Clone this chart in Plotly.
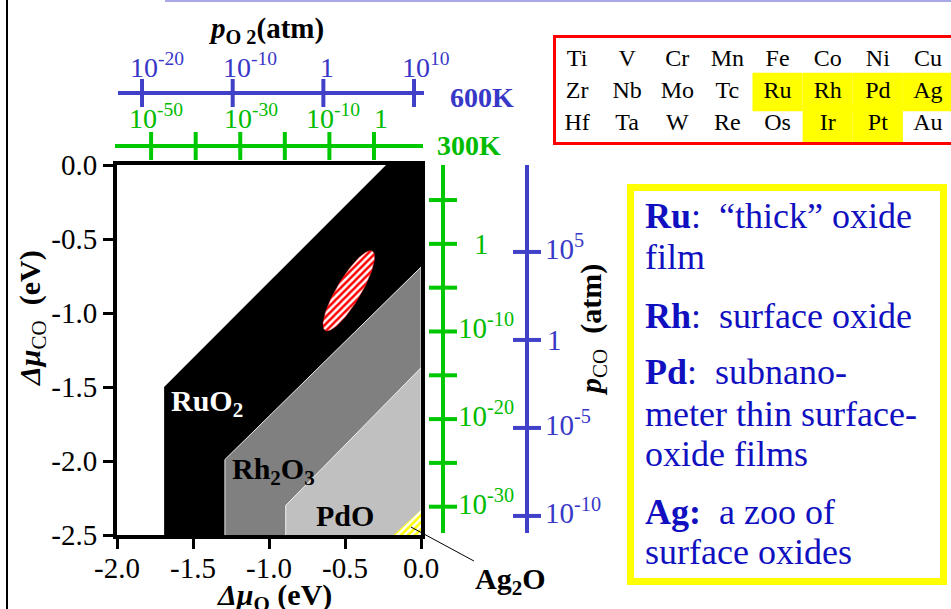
import numpy as np
import plotly.graph_objects as go

W, H = 951, 609
FONT = "Liberation Serif"
BLUE = "#4040c8"
BLUE_TXT = "#3838c8"
GREEN = "#00c800"
GREEN_TXT = "#00bb00"
NAVY = "#1010c0"

# ---------------- phase regions: (Δμ_O, Δμ_CO) in eV ----------------
ruo2_x = [-1.69, -1.69, -0.23, 0.0, 0.0]
ruo2_y = [-2.5, -1.50, 0.0, 0.0, -2.5]
rh2o3_x = [-1.29, -1.29, 0.0, 0.0]
rh2o3_y = [-2.5, -1.99, -0.69, -2.5]
pdo_x = [-0.89, -0.89, 0.0, 0.0]
pdo_y = [-2.5, -2.30, -1.37, -2.5]
ag2o_x = [-0.18, 0.0, 0.0]
ag2o_y = [-2.5, -2.33, -2.5]

# active window: centre, semi-axes (eV) and tilt (deg)
active_center = (-0.475, -0.85)
active_axes = (0.31, 0.08)
active_tilt = 60.0

phase_names = ["RuO<sub>2</sub>", "Rh<sub>2</sub>O<sub>3</sub>", "PdO"]
phase_label_x = [-1.405, -0.97, -0.50]
phase_label_y = [-1.61, -2.07, -2.37]
phase_label_color = ["white", "black", "black"]

x_tickvals = [-2.0, -1.5, -1.0, -0.5, 0.0]
x_ticktext = ["-2.0", "-1.5", "-1.0", "-0.5", "0.0"]
y_tickvals = [0.0, -0.5, -1.0, -1.5, -2.0, -2.5]
y_ticktext = ["0.0", "-0.5", "-1.0", "-1.5", "-2.0", "-2.5"]

# ---------------- pressure scales: log10(p / atm) ----------------
o2_600_range = [-22.65, 11.1]
o2_600_ticks = [-20, -10, 0, 10]
o2_600_labels = ["10<sup>-20</sup>", "10<sup>-10</sup>", "1", "10<sup>10</sup>"]

o2_300_range = [-58.1, 11.0]
o2_300_ticks = [-50, -40, -30, -20, -10, 0]
o2_300_label_at = [-50, -30, -10, 0]
o2_300_labels = ["10<sup>-50</sup>", "10<sup>-30</sup>", "10<sup>-10</sup>", "1"]

co_300_range = [-33.0, 9.0]
co_300_ticks = [5, 0, -5, -10, -15, -20, -25, -30]
co_300_label_at = [0, -10, -20, -30]
co_300_labels = ["1", "10<sup>-10</sup>", "10<sup>-20</sup>", "10<sup>-30</sup>"]

co_600_range = [-10.97, 9.94]
co_600_ticks = [5, 0, -5, -10]
co_600_labels = ["10<sup>5</sup>", "1", "10<sup>-5</sup>", "10<sup>-10</sup>"]

# ---------------- periodic-table excerpt ----------------
elements = [
    ["Ti", "V", "Cr", "Mn", "Fe", "Co", "Ni", "Cu"],
    ["Zr", "Nb", "Mo", "Tc", "Ru", "Rh", "Pd", "Ag"],
    ["Hf", "Ta", "W", "Re", "Os", "Ir", "Pt", "Au"],
]
highlighted = ["Ru", "Rh", "Pd", "Ag", "Ir", "Pt"]

# ---------------- notes ----------------
notes = [
    ("<b>Ru</b>:\u00a0 “thick” oxide", 227),
    ("film", 268),
    ("<b>Rh</b>:\u00a0 surface oxide", 327),
    ("<b>Pd</b>:\u00a0 subnano-", 383),
    ("meter thin surface-", 425),
    ("oxide films", 465),
    ("<b>Ag:</b>\u00a0 a zoo of", 523),
    ("surface oxides", 563),
]


def fx(px):
    return px / W


def fy(py):
    return 1 - py / H


fig = go.Figure()

# --- phase regions
fig.add_trace(go.Scatter(x=ruo2_x, y=ruo2_y, fill="toself", mode="lines",
                         fillcolor="black", line=dict(color="black", width=0)))
fig.add_trace(go.Scatter(x=rh2o3_x, y=rh2o3_y, fill="toself", mode="lines",
                         fillcolor="#808080", line=dict(color="#e8e8e8", width=1)))
fig.add_trace(go.Scatter(x=pdo_x, y=pdo_y, fill="toself", mode="lines",
                         fillcolor="#c0c0c0", line=dict(color="#f0f0f0", width=1)))
fig.add_trace(go.Scatter(x=ag2o_x, y=ag2o_y, fill="toself", mode="lines",
                         fillcolor="#ffff00", line=dict(color="#ffff00", width=0),
                         fillpattern=dict(shape="/", bgcolor="#ffff00", fgcolor="white",
                                          size=5, solidity=0.5)))

# --- active window ellipse
t = np.linspace(0, 2 * np.pi, 121)
a, b = active_axes
th = np.deg2rad(active_tilt)
ex = active_center[0] + a * np.cos(t) * np.cos(th) - b * np.sin(t) * np.sin(th)
ey = active_center[1] + a * np.cos(t) * np.sin(th) + b * np.sin(t) * np.cos(th)
fig.add_trace(go.Scatter(x=ex, y=ey, fill="toself", mode="lines",
                         fillcolor="#ff0000", line=dict(color="#ff2020", width=0.5),
                         fillpattern=dict(shape="/", bgcolor="white", fgcolor="#ff0000",
                                          size=5, solidity=0.5)))


# --- pressure scale lines + ticks
def scale_traces(rng, ticks, color, xa, ya, horizontal):
    if horizontal:
        fig.add_trace(go.Scatter(x=rng, y=[0, 0], mode="lines", xaxis=xa, yaxis=ya,
                                 line=dict(color=color, width=4), cliponaxis=False))
        fig.add_trace(go.Scatter(x=ticks, y=[0] * len(ticks), mode="markers", xaxis=xa, yaxis=ya,
                                 marker=dict(symbol="line-ns", size=20,
                                             line=dict(color=color, width=4)),
                                 cliponaxis=False))
    else:
        fig.add_trace(go.Scatter(x=[0, 0], y=rng, mode="lines", xaxis=xa, yaxis=ya,
                                 line=dict(color=color, width=4), cliponaxis=False))
        fig.add_trace(go.Scatter(x=[0] * len(ticks), y=ticks, mode="markers", xaxis=xa, yaxis=ya,
                                 marker=dict(symbol="line-ew", size=20,
                                             line=dict(color=color, width=4)),
                                 cliponaxis=False))


scale_traces(o2_600_range, o2_600_ticks, BLUE, "x2", "y2", True)
scale_traces(o2_300_range, o2_300_ticks, GREEN, "x3", "y3", True)
scale_traces(co_300_range, co_300_ticks, GREEN, "x4", "y4", False)
scale_traces(co_600_range, co_600_ticks, BLUE, "x5", "y5", False)

# --- periodic table symbols
pt_x, pt_y, pt_t = [], [], []
for r, row in enumerate(elements):
    for c, sym in enumerate(row):
        pt_x.append(c)
        pt_y.append(r)
        pt_t.append(sym)
fig.add_trace(go.Scatter(x=pt_x, y=pt_y, text=pt_t, mode="text", xaxis="x6", yaxis="y6",
                         textfont=dict(family=FONT, size=24, color="black"),
                         cliponaxis=False))

shapes = []
for r, row in enumerate(elements):
    for c, sym in enumerate(row):
        if sym in highlighted:
            shapes.append(dict(type="rect", xref="x6", yref="y6",
                               x0=c - 0.5, x1=c + 0.5, y0=r - 0.6, y1=r + 0.6,
                               fillcolor="#ffff00", line=dict(width=0), layer="below"))
# red frame of the table
shapes.append(dict(type="rect", xref="paper", yref="paper",
                   x0=fx(554.5), x1=fx(965), y0=fy(143.5), y1=fy(36.5),
                   line=dict(color="#ff0000", width=3)))
# notes frame
shapes.append(dict(type="rect", xref="paper", yref="paper",
                   x0=fx(630.5), x1=fx(943.5), y0=fy(581.5), y1=fy(187.5),
                   line=dict(color="#ffff00", width=7)))
# slide rules
shapes.append(dict(type="line", xref="paper", yref="paper",
                   x0=fx(7), x1=fx(7), y0=0, y1=1, line=dict(color="black", width=2)))
shapes.append(dict(type="line", xref="paper", yref="paper",
                   x0=fx(165), x1=1, y0=fy(1), y1=fy(1), line=dict(color="#a8a8e8", width=2)))

ann = []
# phase labels
for name, x, y, col in zip(phase_names, phase_label_x, phase_label_y, phase_label_color):
    ann.append(dict(x=x, y=y, xref="x", yref="y", text=f"<b>{name}</b>", showarrow=False,
                    xanchor="center", yanchor="middle",
                    font=dict(family=FONT, size=30, color=col)))
# Ag2O pointer
ann.append(dict(x=-0.066, y=-2.446, xref="x", yref="y", text="<b>Ag<sub>2</sub>O</b>",
                showarrow=True, arrowhead=0, arrowwidth=1, arrowcolor="black",
                ax=100, ay=54, font=dict(family=FONT, size=30, color="black")))

# pressure labels, top scales
o2_600_dx = [-14, -12, -5, -14]
for v, txt, dx in zip(o2_600_ticks, o2_600_labels, o2_600_dx):
    ann.append(dict(x=v, y=0, xref="x2", yref="y2", text=txt, showarrow=False,
                    xanchor="left", yanchor="bottom", xshift=dx, yshift=8,
                    font=dict(family=FONT, size=28, color=BLUE_TXT)))
o2_300_dx = [-24, -18, -25, -2]
for v, txt, dx in zip(o2_300_label_at, o2_300_labels, o2_300_dx):
    ann.append(dict(x=v, y=0, xref="x3", yref="y3", text=txt, showarrow=False,
                    xanchor="left", yanchor="bottom", xshift=dx, yshift=10,
                    font=dict(family=FONT, size=28, color=GREEN_TXT)))
# pressure labels, side scales
for v, txt in zip(co_300_label_at, co_300_labels):
    ann.append(dict(x=0, y=v, xref="x4", yref="y4", text=txt, showarrow=False,
                    xanchor="left", yanchor="middle",
                    xshift=29 if txt == "1" else 13, yshift=0 if txt == "1" else 5,
                    font=dict(family=FONT, size=29, color=GREEN_TXT)))
for v, txt in zip(co_600_ticks, co_600_labels):
    ann.append(dict(x=0, y=v, xref="x5", yref="y5", text=txt, showarrow=False,
                    xanchor="left", yanchor="middle",
                    xshift=18 if txt == "1" else 16, yshift=0 if txt == "1" else 5,
                    font=dict(family=FONT, size=29, color=BLUE_TXT)))

# temperature tags
ann.append(dict(x=fx(448), y=fy(97), xref="paper", yref="paper", text="<b>600K</b>",
                showarrow=False, xanchor="left", yanchor="middle",
                font=dict(family=FONT, size=28, color=BLUE_TXT)))
ann.append(dict(x=fx(435), y=fy(145), xref="paper", yref="paper", text="<b>300K</b>",
                showarrow=False, xanchor="left", yanchor="middle",
                font=dict(family=FONT, size=28, color=GREEN_TXT)))

# axis titles
ann.append(dict(x=fx(266), y=fy(30), xref="paper", yref="paper",
                text="<b><i>p</i><sub>O 2</sub>(atm)</b>", showarrow=False,
                xanchor="center", yanchor="middle",
                font=dict(family=FONT, size=29, color="black")))
ann.append(dict(x=fx(32), y=fy(318), xref="paper", yref="paper", textangle=-90,
                text="<b><i>Δμ</i></b><sub>CO</sub>\u00a0 <b>(eV)</b>", showarrow=False,
                xanchor="center", yanchor="middle",
                font=dict(family=FONT, size=30, color="black")))
ann.append(dict(x=fx(274), y=fy(597), xref="paper", yref="paper",
                text="<b><i>Δμ</i><sub>O</sub> (eV)</b>", showarrow=False,
                xanchor="center", yanchor="middle",
                font=dict(family=FONT, size=30, color="black")))
ann.append(dict(x=fx(593), y=fy(330), xref="paper", yref="paper", textangle=-90,
                text="<b><i>p</i></b><sub>CO</sub>\u00a0 <b>(atm)</b>", showarrow=False,
                xanchor="center", yanchor="middle",
                font=dict(family=FONT, size=30, color="black")))

# notes text
for txt, base in notes:
    ann.append(dict(x=fx(643), y=fy(base - 11), xref="paper", yref="paper", text=txt,
                    showarrow=False, xanchor="left", yanchor="middle",
                    font=dict(family=FONT, size=36, color=NAVY)))

hidden = dict(visible=False, fixedrange=True, automargin=False)
fig.update_layout(
    template="none",
    width=W, height=H, autosize=False,
    margin=dict(l=0, r=0, t=0, b=0, pad=0, autoexpand=False),
    paper_bgcolor="white", plot_bgcolor="white",
    showlegend=False,
    font=dict(family=FONT, size=29, color="black"),
    xaxis=dict(domain=[fx(117), fx(421)], range=[-2.0, 0.0], anchor="y", automargin=False,
               tickvals=x_tickvals, ticktext=x_ticktext,
               ticks="outside", ticklen=10, tickwidth=3, tickcolor="black",
               ticklabelstandoff=-6,
               showline=True, linewidth=4, linecolor="black", mirror=True,
               showgrid=False, zeroline=False,
               tickfont=dict(family=FONT, size=29, color="black")),
    yaxis=dict(domain=[fy(535), fy(165)], range=[-2.5, 0.0], anchor="x", automargin=False,
               tickvals=y_tickvals, ticktext=y_ticktext,
               ticks="outside", ticklen=10, tickwidth=3, tickcolor="black",
               showline=True, linewidth=4, linecolor="black", mirror=True,
               showgrid=False, zeroline=False,
               tickfont=dict(family=FONT, size=29, color="black")),
    xaxis2=dict(domain=[fx(118), fx(424)], range=o2_600_range, anchor="y2", **hidden),
    yaxis2=dict(domain=[fy(103), fy(83)], range=[-1, 1], anchor="x2", **hidden),
    xaxis3=dict(domain=[fx(115), fx(423)], range=o2_300_range, anchor="y3", **hidden),
    yaxis3=dict(domain=[fy(156), fy(136)], range=[-1, 1], anchor="x3", **hidden),
    xaxis4=dict(domain=[fx(433), fx(453)], range=[-1, 1], anchor="y4", **hidden),
    yaxis4=dict(domain=[fy(533), fy(165)], range=co_300_range, anchor="x4", **hidden),
    xaxis5=dict(domain=[fx(517), fx(537)], range=[-1, 1], anchor="y5", **hidden),
    yaxis5=dict(domain=[fy(533), fy(165)], range=co_600_range, anchor="x5", **hidden),
    xaxis6=dict(domain=[fx(552), 1.0], range=[-0.5, 7.46], anchor="y6", **hidden),
    yaxis6=dict(domain=[fy(144), fy(35)], range=[2.625, -0.78], anchor="x6", **hidden),
    shapes=shapes,
    annotations=ann,
)

fig.write_html("out.html")
